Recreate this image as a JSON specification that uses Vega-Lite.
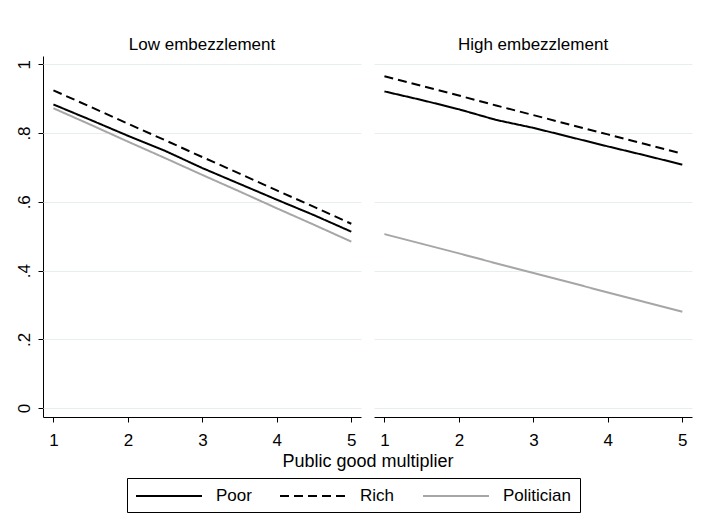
{
  "$schema": "https://vega.github.io/schema/vega-lite/v6.json",
  "background": "white",
  "padding": {"left": 15, "top": 36, "right": 13, "bottom": 18},
  "data": {"values": [
    {"panel": "Low embezzlement", "group": "Poor", "m": 1, "share": 0.883},
    {"panel": "Low embezzlement", "group": "Poor", "m": 1.5, "share": 0.838},
    {"panel": "Low embezzlement", "group": "Poor", "m": 2, "share": 0.792},
    {"panel": "Low embezzlement", "group": "Poor", "m": 2.5, "share": 0.748},
    {"panel": "Low embezzlement", "group": "Poor", "m": 3, "share": 0.698},
    {"panel": "Low embezzlement", "group": "Poor", "m": 3.5, "share": 0.652},
    {"panel": "Low embezzlement", "group": "Poor", "m": 4, "share": 0.606},
    {"panel": "Low embezzlement", "group": "Poor", "m": 4.5, "share": 0.561},
    {"panel": "Low embezzlement", "group": "Poor", "m": 5, "share": 0.513},
    {"panel": "Low embezzlement", "group": "Rich", "m": 1, "share": 0.924},
    {"panel": "Low embezzlement", "group": "Rich", "m": 1.5, "share": 0.876},
    {"panel": "Low embezzlement", "group": "Rich", "m": 2, "share": 0.827},
    {"panel": "Low embezzlement", "group": "Rich", "m": 2.5, "share": 0.779},
    {"panel": "Low embezzlement", "group": "Rich", "m": 3, "share": 0.730},
    {"panel": "Low embezzlement", "group": "Rich", "m": 3.5, "share": 0.682},
    {"panel": "Low embezzlement", "group": "Rich", "m": 4, "share": 0.633},
    {"panel": "Low embezzlement", "group": "Rich", "m": 4.5, "share": 0.585},
    {"panel": "Low embezzlement", "group": "Rich", "m": 5, "share": 0.536},
    {"panel": "Low embezzlement", "group": "Politician", "m": 1, "share": 0.872},
    {"panel": "Low embezzlement", "group": "Politician", "m": 1.5, "share": 0.824},
    {"panel": "Low embezzlement", "group": "Politician", "m": 2, "share": 0.775},
    {"panel": "Low embezzlement", "group": "Politician", "m": 2.5, "share": 0.727},
    {"panel": "Low embezzlement", "group": "Politician", "m": 3, "share": 0.678},
    {"panel": "Low embezzlement", "group": "Politician", "m": 3.5, "share": 0.630},
    {"panel": "Low embezzlement", "group": "Politician", "m": 4, "share": 0.581},
    {"panel": "Low embezzlement", "group": "Politician", "m": 4.5, "share": 0.533},
    {"panel": "Low embezzlement", "group": "Politician", "m": 5, "share": 0.484},
    {"panel": "High embezzlement", "group": "Poor", "m": 1, "share": 0.921},
    {"panel": "High embezzlement", "group": "Poor", "m": 1.5, "share": 0.896},
    {"panel": "High embezzlement", "group": "Poor", "m": 2, "share": 0.869},
    {"panel": "High embezzlement", "group": "Poor", "m": 2.5, "share": 0.838},
    {"panel": "High embezzlement", "group": "Poor", "m": 3, "share": 0.815},
    {"panel": "High embezzlement", "group": "Poor", "m": 3.5, "share": 0.788},
    {"panel": "High embezzlement", "group": "Poor", "m": 4, "share": 0.761},
    {"panel": "High embezzlement", "group": "Poor", "m": 4.5, "share": 0.735},
    {"panel": "High embezzlement", "group": "Poor", "m": 5, "share": 0.708},
    {"panel": "High embezzlement", "group": "Rich", "m": 1, "share": 0.965},
    {"panel": "High embezzlement", "group": "Rich", "m": 1.5, "share": 0.937},
    {"panel": "High embezzlement", "group": "Rich", "m": 2, "share": 0.909},
    {"panel": "High embezzlement", "group": "Rich", "m": 2.5, "share": 0.880},
    {"panel": "High embezzlement", "group": "Rich", "m": 3, "share": 0.852},
    {"panel": "High embezzlement", "group": "Rich", "m": 3.5, "share": 0.824},
    {"panel": "High embezzlement", "group": "Rich", "m": 4, "share": 0.796},
    {"panel": "High embezzlement", "group": "Rich", "m": 4.5, "share": 0.768},
    {"panel": "High embezzlement", "group": "Rich", "m": 5, "share": 0.740},
    {"panel": "High embezzlement", "group": "Politician", "m": 1, "share": 0.506},
    {"panel": "High embezzlement", "group": "Politician", "m": 1.5, "share": 0.478},
    {"panel": "High embezzlement", "group": "Politician", "m": 2, "share": 0.450},
    {"panel": "High embezzlement", "group": "Politician", "m": 2.5, "share": 0.421},
    {"panel": "High embezzlement", "group": "Politician", "m": 3, "share": 0.393},
    {"panel": "High embezzlement", "group": "Politician", "m": 3.5, "share": 0.365},
    {"panel": "High embezzlement", "group": "Politician", "m": 4, "share": 0.336},
    {"panel": "High embezzlement", "group": "Politician", "m": 4.5, "share": 0.308},
    {"panel": "High embezzlement", "group": "Politician", "m": 5, "share": 0.280}
  ]},
  "facet": {
    "column": {
      "field": "panel", "type": "nominal",
      "sort": ["Low embezzlement", "High embezzlement"],
      "title": "Public good multiplier",
      "header": {
        "labelOrient": "top", "titleOrient": "bottom",
        "labelFont": "Liberation Sans", "labelFontSize": 17, "labelColor": "black", "labelPadding": 2,
        "titleFont": "Liberation Sans", "titleFontSize": 18, "titleFontWeight": "normal", "titleColor": "black", "titlePadding": -5
      }
    }
  },
  "spacing": 13,
  "spec": {
    "width": 318,
    "height": 361,
    "mark": {"type": "line", "strokeWidth": 2},
    "encoding": {
      "x": {
        "field": "m", "type": "quantitative",
        "scale": {"domain": [0.86, 5.13], "nice": false, "zero": false},
        "axis": {"values": [1, 2, 3, 4, 5], "title": null, "grid": false, "format": "d", "labelPadding": 10}
      },
      "y": {
        "field": "share", "type": "quantitative",
        "scale": {"domain": [-0.026, 1.024], "nice": false, "zero": false},
        "axis": {
          "values": [0, 0.2, 0.4, 0.6, 0.8, 1], "title": null, "labelAngle": -90,
          "labelAlign": "center", "labelBaseline": "bottom", "labelPadding": 5,
          "labelExpr": "datum.value == 0 ? '0' : datum.value == 1 ? '1' : replace(format(datum.value, '.1f'), '0.', '.')",
          "grid": true, "gridColor": "#e6eef0", "gridWidth": 1
        }
      },
      "color": {
        "field": "group", "type": "nominal", "title": null,
        "scale": {"domain": ["Poor", "Rich", "Politician"], "range": ["#000000", "#000000", "#a6a6a6"]}
      },
      "strokeDash": {
        "field": "group", "type": "nominal", "title": null,
        "scale": {"domain": ["Poor", "Rich", "Politician"], "range": [[1, 0], [9, 5], [1, 0]]}
      }
    }
  },
  "config": {
    "view": {"stroke": null},
    "font": "Liberation Sans",
    "axis": {
      "domainColor": "black", "tickColor": "black", "labelColor": "black",
      "tickSize": 5, "labelFontSize": 17, "labelFont": "Liberation Sans"
    },
    "legend": {
      "orient": "bottom", "direction": "horizontal",
      "symbolType": "M-1,0H6.3333", "symbolSize": 324, "symbolStrokeWidth": 2,
      "labelFontSize": 17, "labelFont": "Liberation Sans", "labelColor": "black",
      "strokeColor": "black", "padding": 8, "columnPadding": 24, "labelOffset": 61,
      "offset": 7,
      "layout": {"bottom": {"anchor": "middle"}}
    }
  }
}
